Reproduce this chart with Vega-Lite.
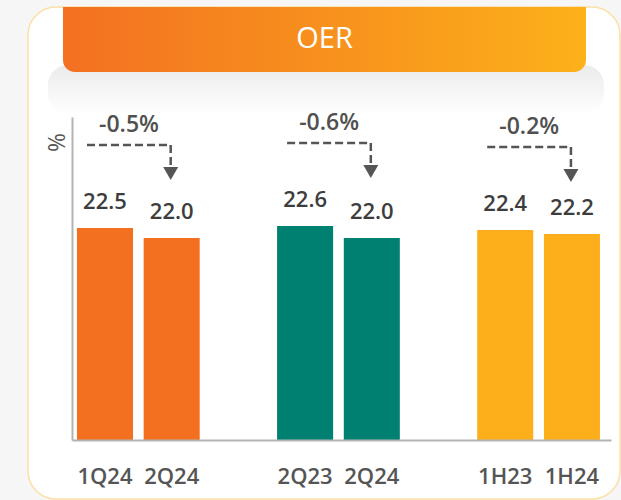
{
  "$schema": "https://vega.github.io/schema/vega-lite/v6.json",
  "width": 539,
  "height": 323,
  "autosize": {"type": "none"},
  "padding": {"left": 72, "top": 117, "right": 10, "bottom": 60},
  "background": "#f6f6f6",
  "config": {"font": "Open Sans", "view": {"stroke": null}},
  "title": {"text": "OER", "fontSize": 29, "color": "#ffffff", "font": "Open Sans", "fontWeight": "normal", "anchor": "middle", "frame": "group", "baseline": "alphabetic", "offset": -71, "dx": -17, "zindex": 2},
  "datasets": {
    "bars": [
      {"key": "Q:1Q24", "group": "QoQ", "value": 22.5},
      {"key": "Q:2Q24", "group": "QoQ", "value": 22.0},
      {"key": "Y:2Q23", "group": "YoY", "value": 22.6},
      {"key": "Y:2Q24", "group": "YoY", "value": 22.0},
      {"key": "H:1H23", "group": "HoH", "value": 22.4},
      {"key": "H:1H24", "group": "HoH", "value": 22.2}
    ],
    "changes": [
      {"from": "Q:1Q24", "to": "Q:2Q24", "prior": 22.5, "change": "-0.5%"},
      {"from": "Y:2Q23", "to": "Y:2Q24", "prior": 22.6, "change": "-0.6%"},
      {"from": "H:1H23", "to": "H:1H24", "prior": 22.4, "change": "-0.2%"}
    ]
  },
  "layer": [
    {
      "data": {"values": [{}]},
      "mark": {"type": "rect", "fill": "#ffffff", "stroke": "#fbe0a6", "strokeWidth": 1.5, "cornerRadius": 28},
      "encoding": {"x": {"value": -44}, "x2": {"value": 548}, "y": {"value": -110}, "y2": {"value": 382}}
    },
    {
      "data": {"values": [{}]},
      "mark": {"type": "rect", "cornerRadius": 20, "fill": {"gradient": "linear", "x1": 0, "y1": 0, "x2": 0, "y2": 1, "stops": [{"offset": 0, "color": "#ebebeb"}, {"offset": 0.5, "color": "#f5f5f5"}, {"offset": 1, "color": "#ffffff"}]}},
      "encoding": {"x": {"value": -24}, "x2": {"value": 532}, "y": {"value": -52}, "y2": {"value": -2}}
    },
    {
      "data": {"values": [{}]},
      "mark": {"type": "rect", "fill": {"gradient": "linear", "x1": 0, "y1": 0, "x2": 1, "y2": 0, "stops": [{"offset": 0, "color": "#f37021"}, {"offset": 1, "color": "#fcb11a"}]}, "cornerRadiusBottomLeft": 12, "cornerRadiusBottomRight": 12},
      "encoding": {"x": {"value": -9}, "x2": {"value": 514}, "y": {"value": -110}, "y2": {"value": -45}}
    },
    {
      "data": {"name": "bars"},
      "mark": {"type": "bar"},
      "encoding": {
        "x": {"field": "key", "type": "nominal",
          "scale": {"domain": ["Q:1Q24", "Q:2Q24", "gap1", "Y:2Q23", "Y:2Q24", "gap2", "H:1H23", "H:1H24"], "paddingInner": 0.16, "paddingOuter": 0.12, "align": 0.31},
          "axis": {"title": null, "zindex": 1, "labelAngle": 0, "ticks": false, "domainColor": "#b3b3b3", "domainWidth": 2, "labelFont": "Open Sans", "labelFontSize": 22, "labelFontWeight": 600, "labelColor": "#555555", "labelBaseline": "alphabetic", "labelPadding": 43,
            "labelExpr": "indexof(datum.value, ':') >= 0 ? split(datum.value, ':')[1] : ''"}},
        "y": {"field": "value", "type": "quantitative",
          "scale": {"domain": [11.9, 28.05], "zero": false, "nice": false},
          "axis": {"title": "%", "zindex": 1, "labels": false, "ticks": false, "grid": false, "domainColor": "#b3b3b3", "domainWidth": 2, "titleFont": "Open Sans", "titleFontSize": 23, "titleFontWeight": "normal", "titleColor": "#555555", "titleAngle": 270, "titleX": -15, "titleY": 25, "titleAlign": "center", "titleBaseline": "middle"}},
        "y2": {"datum": 11.9},
        "color": {"field": "group", "type": "nominal", "legend": null,
          "scale": {"domain": ["QoQ", "YoY", "HoH"], "range": ["#f37021", "#008070", "#fcaf1a"]}}
      }
    },
    {
      "data": {"name": "bars"},
      "mark": {"type": "text", "baseline": "alphabetic", "dy": -19, "fontSize": 22, "fontWeight": 600, "color": "#3d3d3d"},
      "encoding": {
        "x": {"field": "key", "type": "nominal"},
        "y": {"field": "value", "type": "quantitative"},
        "text": {"field": "value", "type": "quantitative", "format": ".1f"}
      }
    },
    {
      "data": {"name": "changes"},
      "mark": {"type": "rule", "color": "#555555", "strokeWidth": 2.5, "strokeDash": [8, 4], "xOffset": -18, "x2Offset": -1, "yOffset": -83},
      "encoding": {
        "x": {"field": "from", "type": "nominal"},
        "x2": {"field": "to"},
        "y": {"field": "prior", "type": "quantitative"}
      }
    },
    {
      "data": {"name": "changes"},
      "mark": {"type": "rule", "color": "#555555", "strokeWidth": 2.5, "strokeDash": [8, 4], "xOffset": -1, "yOffset": -83, "y2Offset": -61},
      "encoding": {
        "x": {"field": "to", "type": "nominal"},
        "y": {"field": "prior", "type": "quantitative"},
        "y2": {"field": "prior"}
      }
    },
    {
      "data": {"name": "changes"},
      "mark": {"type": "point", "shape": "triangle-down", "filled": true, "opacity": 1, "size": 225, "color": "#555555", "xOffset": -1, "yOffset": -54.5},
      "encoding": {
        "x": {"field": "to", "type": "nominal"},
        "y": {"field": "prior", "type": "quantitative"}
      }
    },
    {
      "data": {"name": "changes"},
      "mark": {"type": "text", "baseline": "alphabetic", "dx": 24, "yOffset": -96, "fontSize": 23, "fontWeight": 600, "color": "#505050"},
      "encoding": {
        "x": {"field": "from", "type": "nominal"},
        "y": {"field": "prior", "type": "quantitative"},
        "text": {"field": "change"}
      }
    }
  ]
}
